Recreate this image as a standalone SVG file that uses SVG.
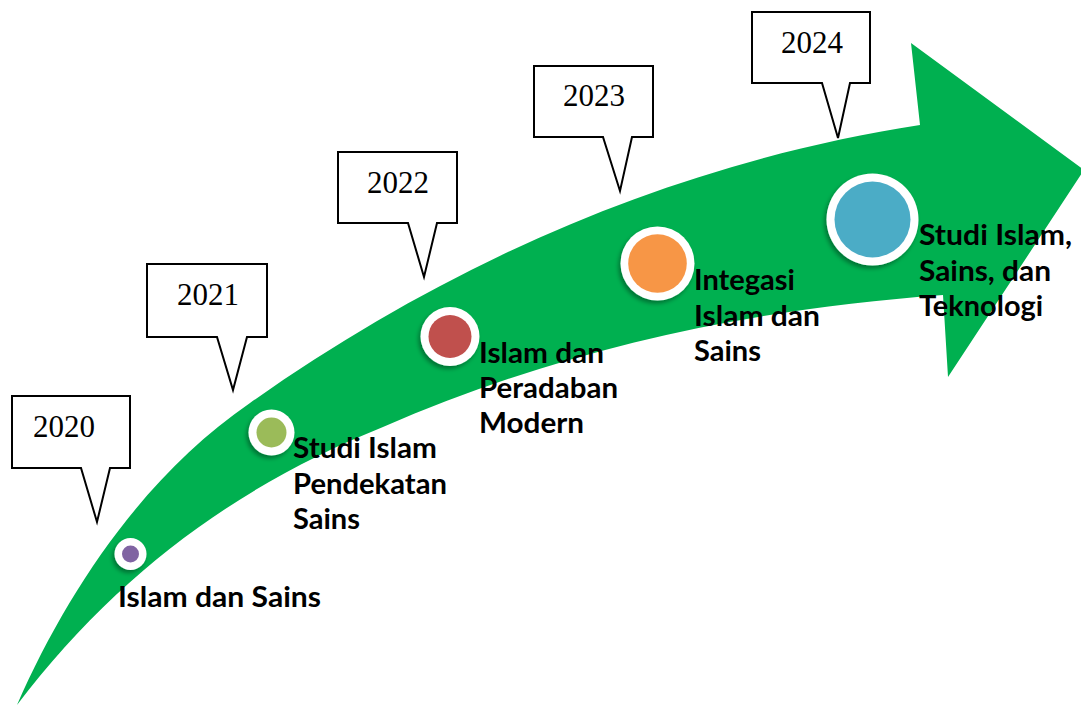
<svg xmlns="http://www.w3.org/2000/svg" width="1081" height="706" viewBox="0 0 1081 706">
<style>
.callout{fill:#fff;stroke:#000;stroke-width:2;stroke-linejoin:miter}
.year{font-family:"Liberation Serif","Times New Roman",serif;font-size:31px;fill:#000}
.lbl{font-family:Lato,"Open Sans",sans-serif;font-weight:700;font-size:29px;fill:#000}
.ring{fill:#fff;filter:url(#sh)}
</style>
<defs>
<filter id="sh" x="-50%" y="-50%" width="200%" height="200%">
<feDropShadow dx="-2" dy="3" stdDeviation="2" flood-color="#000" flood-opacity="0.35"/>
</filter>
</defs>
<rect width="1081" height="706" fill="#fff"/>
<g id="arrow">
<path fill="#00B050" d="M17,705 C68,589 145,475 250,403 C455,258 681,162 920,125 L911,43 L1084,170 L948,377 L943,295 C740,310 561,350 383,427 C241,484 118,572 17,705 Z"/>
</g>
<g id="connectors"></g>
<g id="y2020"><path class="callout" d="M12,396 H130 V468 H110 L97,522 L81,468 H12 Z"/><text class="year" x="33" y="437">2020</text></g>
<g id="y2021"><path class="callout" d="M147,264 H267 V337 H247 L233,390 L217,337 H147 Z"/><text class="year" x="177" y="305">2021</text></g>
<g id="y2022"><path class="callout" d="M338,152 H457 V223 H437 L424,277 L408,223 H338 Z"/><text class="year" x="367" y="193">2022</text></g>
<g id="y2023"><path class="callout" d="M534,66 H653 V137 H632 L620,191 L603,137 H534 Z"/><text class="year" x="563" y="106">2023</text></g>
<g id="y2024"><path class="callout" d="M752,12 H870 V83 H850 L838,138 L822,83 H752 Z"/><text class="year" x="781" y="53">2024</text></g>
<g id="n2020"><circle class="ring" cx="130.5" cy="554" r="16"/><circle cx="130.5" cy="554" r="8.5" fill="#8064A2"/>
<text class="lbl" x="118" y="607" textLength="203" lengthAdjust="spacingAndGlyphs">Islam dan Sains</text></g>
<g id="n2021"><circle class="ring" cx="271.5" cy="432.5" r="23"/><circle cx="271.5" cy="432.5" r="15" fill="#9BBB59"/>
<text class="lbl" x="293" y="458" textLength="144" lengthAdjust="spacingAndGlyphs">Studi Islam</text>
<text class="lbl" x="293" y="493.5" textLength="154" lengthAdjust="spacingAndGlyphs">Pendekatan</text>
<text class="lbl" x="293" y="529" textLength="67" lengthAdjust="spacingAndGlyphs">Sains</text></g>
<g id="n2022"><circle class="ring" cx="450" cy="336.5" r="29.5"/><circle cx="450" cy="336.5" r="21.5" fill="#C0504D"/>
<text class="lbl" x="479" y="363" textLength="125" lengthAdjust="spacingAndGlyphs">Islam dan</text>
<text class="lbl" x="479" y="398" textLength="139" lengthAdjust="spacingAndGlyphs">Peradaban</text>
<text class="lbl" x="479" y="433" textLength="105" lengthAdjust="spacingAndGlyphs">Modern</text></g>
<g id="n2023"><circle class="ring" cx="657.5" cy="263.5" r="37"/><circle cx="657.5" cy="263.5" r="29.3" fill="#F79646"/>
<text class="lbl" x="694" y="290" textLength="101" lengthAdjust="spacingAndGlyphs">Integasi</text>
<text class="lbl" x="694" y="325.5" textLength="126" lengthAdjust="spacingAndGlyphs">Islam dan</text>
<text class="lbl" x="694" y="361" textLength="67" lengthAdjust="spacingAndGlyphs">Sains</text></g>
<g id="n2024"><circle class="ring" cx="872.5" cy="219.5" r="46"/><circle cx="872.5" cy="219.5" r="38" fill="#4BACC6"/>
<text class="lbl" x="919" y="245" textLength="153" lengthAdjust="spacingAndGlyphs">Studi Islam,</text>
<text class="lbl" x="919" y="280.5" textLength="132" lengthAdjust="spacingAndGlyphs">Sains, dan</text>
<text class="lbl" x="919" y="316" textLength="124" lengthAdjust="spacingAndGlyphs">Teknologi</text></g>
</svg>
